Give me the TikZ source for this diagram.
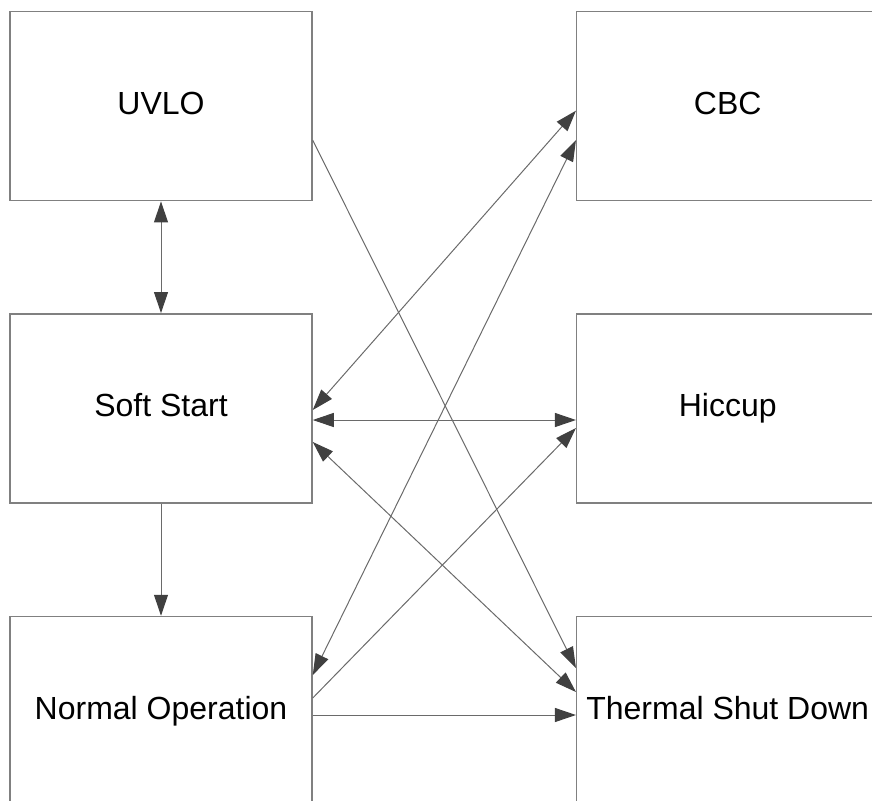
\documentclass[tikz,border=0pt]{standalone}
\usepackage{fontspec}
\setmainfont{Liberation Sans}
\usetikzlibrary{arrows.meta}
\definecolor{boxc}{HTML}{808080}
\definecolor{linec}{HTML}{6A6A6A}
\definecolor{tipc}{HTML}{404040}
\begin{document}
\begin{tikzpicture}[x=1pt,y=-1pt,
  state/.style={draw=boxc,line width=1.5pt,rectangle,minimum width=302pt,minimum height=189pt,inner sep=0pt,text height=23pt,text depth=6pt,font=\fontsize{32}{38}\selectfont,text=black},
  conn/.style={draw=linec,line width=1pt},
  tip/.tip={Triangle[length=21pt,width=14pt,color=tipc,fill=tipc]},
  one/.style={conn,-tip},
  two/.style={conn,tip-tip}]
\useasboundingbox (0,0) rectangle (872,800);
\clip (0,0) rectangle (872,800);
\node[state] (uvlo) at (161,106.2) {UVLO};
\node[state] (ss) at (161,408.3) {Soft Start};
\node[state] (no) at (161,711) {Normal Operation};
\node[state] (cbc) at (727.7,106.2) {CBC};
\node[state] (hic) at (727.7,408.3) {Hiccup};
\node[state] (tsd) at (727.7,711) {Thermal Shut Down};
% vertical
\draw[two] (uvlo.south) -- (ss.north);
\draw[one] (ss.south) -- (no.north);
% diagonals
\draw[one] ([yshift=-34pt]uvlo.east) -- ([yshift=43pt]tsd.west);
\draw[two] ([yshift=-1.7pt]ss.east) -- ([yshift=-4.5pt]cbc.west);
\draw[two] ([yshift=36pt]no.east) -- ([yshift=-34pt]cbc.west);
\draw[two] ([yshift=-11.7pt]ss.east) -- ([yshift=-11.7pt]hic.west);
\draw[two] ([yshift=-33.7pt]ss.east) -- ([yshift=19pt]tsd.west);
\draw[one] ([yshift=13pt]no.east) -- ([yshift=-19.7pt]hic.west);
\draw[one] ([yshift=-4pt]no.east) -- ([yshift=-4pt]tsd.west);
\end{tikzpicture}
\end{document}
